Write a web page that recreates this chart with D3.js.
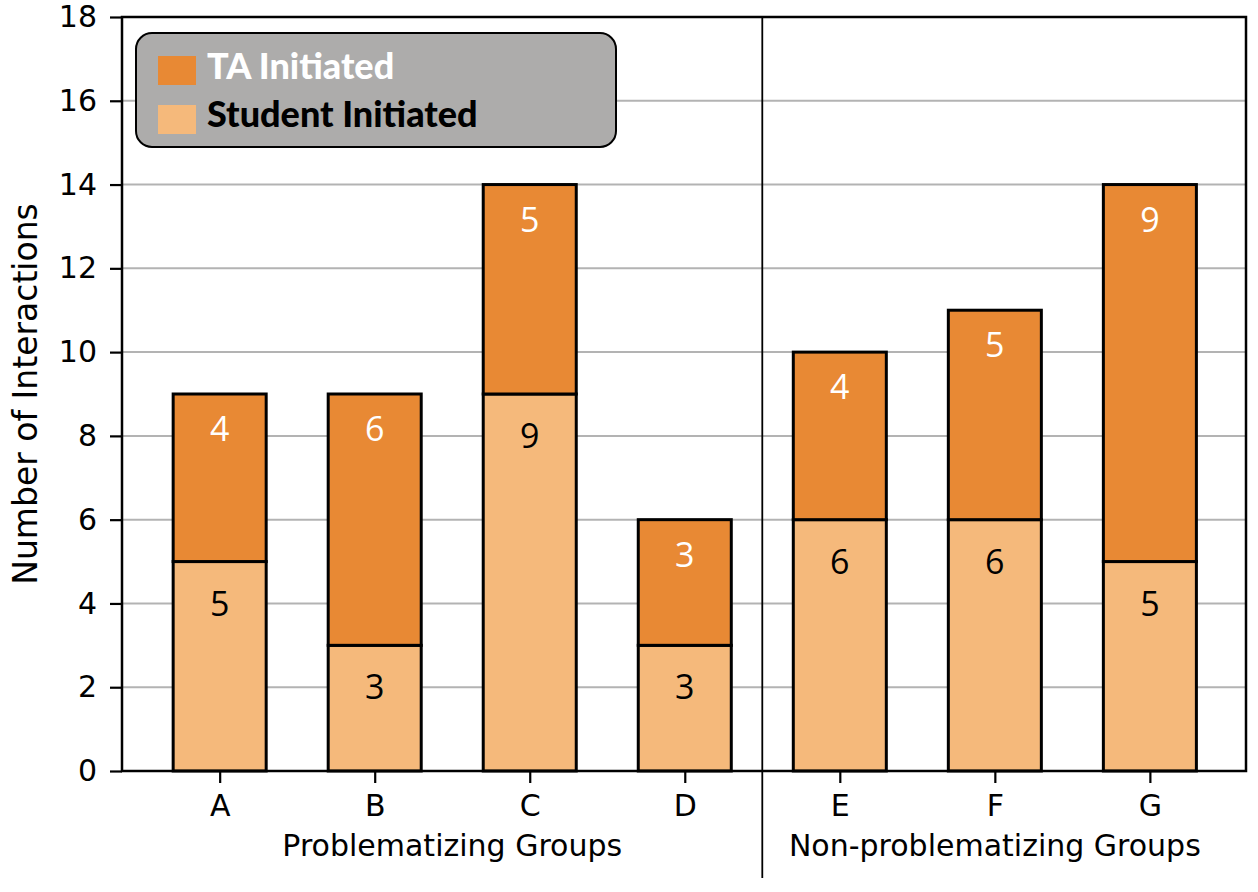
<!DOCTYPE html>
<html>
<head>
<meta charset="utf-8">
<script src="https://cdn.jsdelivr.net/npm/d3@7"></script>
<style>
  body { margin: 0; background: #fff; }
</style>
</head>
<body>
<div id="chart-container"></div>
<script>
// stacked bars - TA vs student initiated interactions per group

const groups = ["A", "B", "C", "D", "E", "F", "G"];
const studentInitiated = [5, 3, 9, 3, 6, 6, 5];
const taInitiated = [4, 6, 5, 3, 4, 5, 9];
const yTicks = [0, 2, 4, 6, 8, 10, 12, 14, 16, 18];
const sections = [
    { label: "Problematizing Groups", from: 0, to: 3 },
    { label: "Non-problematizing Groups", from: 4, to: 6 }
];

const svgWidth = 1258;
const svgHeight = 892;
const margin = { top: 17, right: 12, bottom: 121, left: 122 };
const width = svgWidth - margin.left - margin.right;
const height = svgHeight - margin.top - margin.bottom;

const colorTA = "#e88934";
const colorStudent = "#f5b97b";

const svg = d3.select("#chart-container")
    .append("svg")
    .attr("width", svgWidth)
    .attr("height", svgHeight);

const chart = svg.append("g")
    .attr("transform", `translate(${margin.left},${margin.top})`);

const scaleX = d3.scaleLinear()
    .domain([-0.63, groups.length - 1 + 0.62])
    .range([0, width]);

const scaleY = d3.scaleLinear()
    .domain([0, 18])
    .range([height, 0]);

const barW = scaleX(0.6) - scaleX(0);

// grid
chart.append("g")
    .selectAll("line")
    .data(yTicks.filter(d => d > 0 && d < 18))
    .enter()
    .append("line")
    .attr("x1", 0)
    .attr("x2", width)
    .attr("y1", d => scaleY(d))
    .attr("y2", d => scaleY(d))
    .attr("stroke", "#b3b3b3")
    .attr("stroke-width", 2);

const rows = groups.map((g, i) => ({
    group: g, i: i, student: studentInitiated[i], ta: taInitiated[i]
}));

// student segments
chart.selectAll("rect.student")
    .data(rows)
    .enter()
    .append("rect")
    .attr("class", "student")
    .attr("x", d => scaleX(d.i) - barW / 2)
    .attr("y", d => scaleY(d.student))
    .attr("width", barW)
    .attr("height", d => scaleY(0) - scaleY(d.student))
    .attr("fill", colorStudent)
    .attr("stroke", "#000")
    .attr("stroke-width", 3);

// TA segments
chart.selectAll("rect.ta")
    .data(rows)
    .enter()
    .append("rect")
    .attr("class", "ta")
    .attr("x", d => scaleX(d.i) - barW / 2)
    .attr("y", d => scaleY(d.student + d.ta))
    .attr("width", barW)
    .attr("height", d => scaleY(d.student) - scaleY(d.student + d.ta))
    .attr("fill", colorTA)
    .attr("stroke", "#000")
    .attr("stroke-width", 3);

// value labels
chart.selectAll("text.slab")
    .data(rows)
    .enter()
    .append("text")
    .attr("x", d => scaleX(d.i))
    .attr("y", d => scaleY(d.student) + 41)
    .attr("text-anchor", "middle")
    .attr("dominant-baseline", "central")
    .attr("font-family", "'Open Sans', sans-serif")
    .attr("font-size", "34px")
    .attr("fill", "#000")
    .text(d => d.student);

chart.selectAll("text.tlab")
    .data(rows)
    .enter()
    .append("text")
    .attr("x", d => scaleX(d.i))
    .attr("y", d => scaleY(d.student + d.ta) + 34)
    .attr("text-anchor", "middle")
    .attr("dominant-baseline", "central")
    .attr("font-family", "'Open Sans', sans-serif")
    .attr("font-size", "34px")
    .attr("fill", "#fff")
    .text(d => d.ta);

// axes
const xAxis = chart.append("g")
    .attr("transform", `translate(0,${height})`)
    .call(d3.axisBottom(scaleX)
        .tickValues(d3.range(groups.length))
        .tickFormat(i => groups[i])
        .tickSize(12)
        .tickPadding(12));

const yAxis = chart.append("g")
    .call(d3.axisLeft(scaleY)
        .tickValues(yTicks)
        .tickSize(12)
        .tickPadding(13));

[xAxis, yAxis].forEach(ax => {
    ax.select(".domain").remove();
    ax.selectAll(".tick line").attr("stroke", "#000").attr("stroke-width", 2.2);
    ax.selectAll(".tick text")
        .attr("font-family", "'DejaVu Sans', sans-serif")
        .attr("font-size", "30px")
        .attr("fill", "#000");
});

// frame
chart.append("rect")
    .attr("x", 0)
    .attr("y", 0)
    .attr("width", width)
    .attr("height", height)
    .attr("fill", "none")
    .attr("stroke", "#000")
    .attr("stroke-width", 2.5);

// section divider
chart.append("line")
    .attr("x1", scaleX(3.5))
    .attr("x2", scaleX(3.5))
    .attr("y1", 0)
    .attr("y2", height + 107)
    .attr("stroke", "#000")
    .attr("stroke-width", 1.8);

chart.selectAll("text.section")
    .data(sections)
    .enter()
    .append("text")
    .attr("x", d => (scaleX(d.from) + scaleX(d.to)) / 2)
    .attr("y", height + 74)
    .attr("text-anchor", "middle")
    .attr("dominant-baseline", "central")
    .attr("font-family", "'DejaVu Sans', sans-serif")
    .attr("font-size", "30px")
    .text(d => d.label);

chart.append("text")
    .attr("transform", "rotate(-90)")
    .attr("x", -(height / 2))
    .attr("y", -97)
    .attr("text-anchor", "middle")
    .attr("dominant-baseline", "central")
    .attr("font-family", "'DejaVu Sans', sans-serif")
    .attr("font-size", "33px")
    .text("Number of Interactions");

// legend
const legend = svg.append("g")
    .attr("transform", "translate(136,33)");

legend.append("rect")
    .attr("width", 480)
    .attr("height", 114)
    .attr("rx", 16)
    .attr("fill", "#adacab")
    .attr("stroke", "#000")
    .attr("stroke-width", 2);

const legendItems = [
    { label: "TA Initiated", color: colorTA, text: "#fff" },
    { label: "Student Initiated", color: colorStudent, text: "#000" }
];

legendItems.forEach((d, i) => {
    legend.append("rect")
        .attr("x", 22)
        .attr("y", 23 + i * 49)
        .attr("width", 38)
        .attr("height", 29)
        .attr("fill", d.color);
    legend.append("text")
        .attr("x", 71)
        .attr("y", 32 + i * 48)
        .attr("dominant-baseline", "central")
        .attr("font-family", "Lato, sans-serif")
        .attr("font-weight", "900")
        .attr("font-size", "36px")
        .attr("fill", d.text)
        .text(d.label);
});
</script>
</body>
</html>
